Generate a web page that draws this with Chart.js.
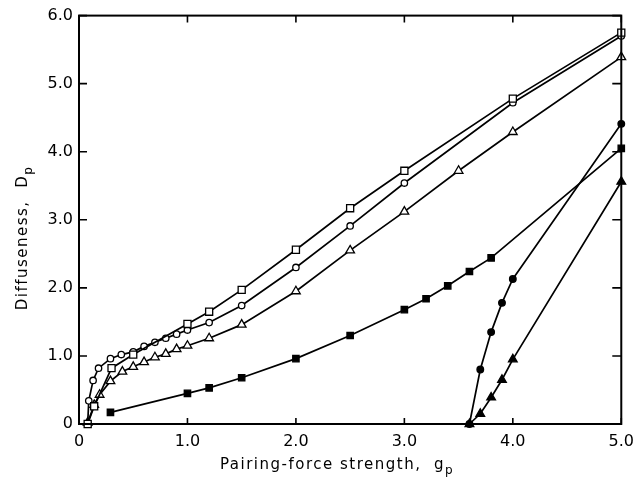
<!DOCTYPE html>
<html>
<head>
<meta charset="utf-8">
<script src="https://cdn.jsdelivr.net/npm/chart.js@4.4.1/dist/chart.umd.min.js"></script>
<style>
  html, body { margin: 0; padding: 0; background: #fff; }
  #wrap { width: 642px; height: 487px; }
</style>
</head>
<body>
<div id="wrap"><canvas id="chart"></canvas></div>
<script>
// axis ticks
const xTicks = [0, 1, 2, 3, 4, 5];
const yTicks = [0, 1, 2, 3, 4, 5, 6];

// open squares
const openSquareG = [0.08, 0.14, 0.3, 0.5, 1.0, 1.2, 1.5, 2.0, 2.5, 3.0, 4.0, 5.0];
const openSquareD = [0, 0.26, 0.82, 1.02, 1.47, 1.65, 1.97, 2.56, 3.17, 3.72, 4.78, 5.75];

// open circles
const openCircleG = [0.08, 0.09, 0.13, 0.18, 0.29, 0.39, 0.5, 0.6, 0.7, 0.8, 0.9, 1.0, 1.2, 1.5, 2.0, 2.5, 3.0, 4.0, 5.0];
const openCircleD = [0, 0.34, 0.64, 0.82, 0.96, 1.02, 1.06, 1.14, 1.20, 1.26, 1.32, 1.38, 1.49, 1.74, 2.30, 2.91, 3.54, 4.72, 5.70];

// open triangles
const openTriG = [0.08, 0.14, 0.19, 0.29, 0.4, 0.5, 0.6, 0.7, 0.8, 0.9, 1.0, 1.2, 1.5, 2.0, 2.5, 3.0, 3.5, 4.0, 5.0];
const openTriD = [0.02, 0.28, 0.43, 0.63, 0.77, 0.84, 0.91, 0.98, 1.03, 1.10, 1.15, 1.26, 1.46, 1.95, 2.55, 3.12, 3.72, 4.29, 5.39];

// filled squares
const fillSquareG = [0.29, 1.0, 1.2, 1.5, 2.0, 2.5, 3.0, 3.2, 3.4, 3.6, 3.8, 5.0];
const fillSquareD = [0.17, 0.45, 0.53, 0.68, 0.96, 1.30, 1.68, 1.84, 2.03, 2.24, 2.44, 4.05];

// filled circles
const fillCircleG = [3.6, 3.7, 3.8, 3.9, 4.0, 5.0];
const fillCircleD = [0, 0.80, 1.35, 1.78, 2.13, 4.41];

// filled triangles
const fillTriG = [3.6, 3.7, 3.8, 3.9, 4.0, 5.0];
const fillTriD = [0, 0.15, 0.39, 0.65, 0.95, 3.56];

const FONT = '"DejaVu Sans", sans-serif';

function pts(gs, ds) {
  return gs.map((g, i) => ({ x: g, y: ds[i] }));
}

function series(gs, ds, style, filled, radius) {
  return {
    data: pts(gs, ds),
    pointStyle: style,
    pointRadius: radius,
    pointBorderWidth: 1.3,
    pointBorderColor: '#000',
    pointBackgroundColor: filled ? '#000' : '#fff',
    borderColor: '#000',
    borderWidth: 1.7,
    tension: 0,
    clip: false
  };
}

const tickFmt = v => (v === 0 ? '0' : v.toFixed(1));

// draws "main" followed by a lowered subscript, centred on cx
function titleWithSub(ctx, main, sub, cx, y) {
  ctx.font = '15px ' + FONT;
  const wMain = ctx.measureText(main).width;
  ctx.font = '12px ' + FONT;
  const wSub = ctx.measureText(sub).width;
  const x0 = cx - (wMain + wSub) / 2;
  ctx.font = '15px ' + FONT;
  ctx.fillText(main, x0, y);
  ctx.font = '12px ' + FONT;
  ctx.fillText(sub, x0 + wMain, y + 5);
}

// frame, inward ticks and the two axis titles
const framePlugin = {
  id: 'frame',
  afterDraw(chart) {
    const { ctx, chartArea: a, scales } = chart;
    ctx.save();
    ctx.strokeStyle = '#000';
    ctx.lineWidth = 2;
    ctx.strokeRect(a.left, a.top, a.right - a.left, a.bottom - a.top);

    ctx.lineWidth = 1.6;
    ctx.beginPath();
    xTicks.forEach(v => {
      const px = scales.x.getPixelForValue(v);
      ctx.moveTo(px, a.bottom); ctx.lineTo(px, a.bottom - 6);
      ctx.moveTo(px, a.top); ctx.lineTo(px, a.top + 7);
    });
    yTicks.forEach(v => {
      const py = scales.y.getPixelForValue(v);
      ctx.moveTo(a.left, py); ctx.lineTo(a.left + 8, py);
      ctx.moveTo(a.right, py); ctx.lineTo(a.right - 9, py);
    });
    ctx.stroke();

    ctx.fillStyle = '#000';
    ctx.letterSpacing = '1.5px';
    ctx.textBaseline = 'alphabetic';
    ctx.textAlign = 'left';

    titleWithSub(ctx, 'Pairing-force strength,  g', 'p', 337, 469);

    ctx.translate(27, 238);
    ctx.rotate(-Math.PI / 2);
    titleWithSub(ctx, 'Diffuseness,  D', 'p', 0, 0);
    ctx.restore();
  }
};

new Chart(document.getElementById('chart'), {
  type: 'line',
  data: {
    datasets: [
      series(openSquareG, openSquareD, 'rect', false, 5),
      series(openCircleG, openCircleD, 'circle', false, 3.2),
      series(openTriG, openTriD, 'triangle', false, 5),
      series(fillSquareG, fillSquareD, 'rect', true, 4.5),
      series(fillCircleG, fillCircleD, 'circle', true, 3.3),
      series(fillTriG, fillTriD, 'triangle', true, 5)
    ]
  },
  options: {
    responsive: true,
    maintainAspectRatio: false,
    animation: false,
    layout: { padding: { left: 0, right: 18, top: 14, bottom: 0 } },
    plugins: {
      legend: { display: false },
      tooltip: { enabled: false }
    },
    scales: {
      x: {
        type: 'linear',
        min: 0,
        max: 5,
        afterFit: s => { s.height = 63; },
        afterBuildTicks: s => { s.ticks = xTicks.map(v => ({ value: v })); },
        grid: { display: false, drawTicks: false },
        border: { display: false },
        ticks: {
          color: '#000',
          padding: 8,
          font: { family: FONT, size: 16 },
          callback: tickFmt,
          maxRotation: 0
        }
      },
      y: {
        type: 'linear',
        min: 0,
        max: 6,
        afterFit: s => { s.width = 79; },
        afterBuildTicks: s => { s.ticks = yTicks.map(v => ({ value: v })); },
        grid: { display: false, drawTicks: false },
        border: { display: false },
        ticks: {
          color: '#000',
          padding: 6,
          font: { family: FONT, size: 16 },
          callback: tickFmt
        }
      }
    }
  },
  plugins: [framePlugin]
});
</script>
</body>
</html>
